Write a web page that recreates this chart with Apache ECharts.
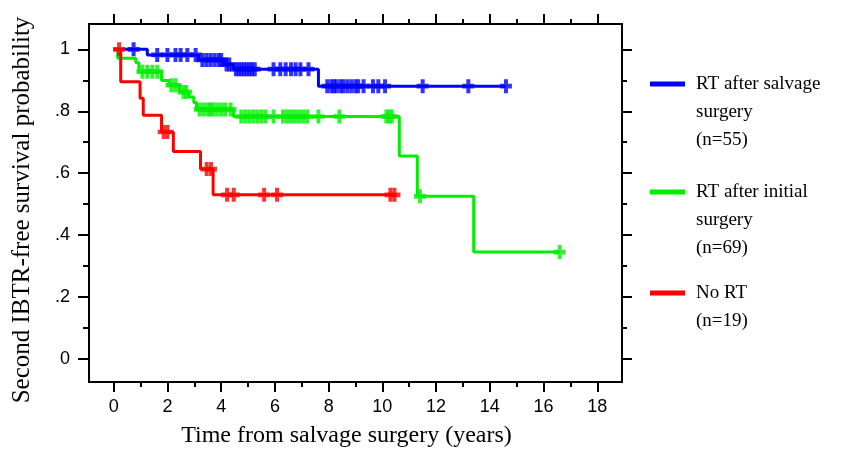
<!DOCTYPE html>
<html>
<head>
<meta charset="utf-8">
<script src="https://cdn.jsdelivr.net/npm/echarts@6/dist/echarts.min.js"></script>
<style>html,body{margin:0;padding:0;background:#fff;}#c{width:846px;height:456px;}</style>
</head>
<body>
<div id="c"></div>
<script>
// ---- Data (Kaplan-Meier step curves) ----
const blueTimes = [0, 1.25, 3.16, 4.10, 4.46, 7.62, 14.6];
const blueSurv  = [1, 0.982, 0.966, 0.951, 0.936, 0.881, 0.881];
const blueCensor = [0.74, 1.62, 2.0, 2.3, 2.49, 2.74, 3.05, 3.3, 3.45, 3.6, 3.75, 3.9, 4.0, 4.2, 4.3,
  4.55, 4.65, 4.75, 4.85, 4.95, 5.05, 5.15, 5.25, 5.95, 6.2, 6.4, 6.6, 6.77, 6.95, 7.25,
  7.95, 8.1, 8.2, 8.3, 8.45, 8.55, 8.7, 8.85, 9.0, 9.1, 9.3, 9.65, 9.85, 10.1, 11.5, 13.2, 14.6];

const greenTimes = [0, 0.15, 0.82, 0.94, 1.78, 2.05, 2.45, 2.8, 2.98, 3.08, 4.46, 10.63, 11.3, 13.4, 16.6];
const greenSurv  = [1, 0.971, 0.957, 0.928, 0.899, 0.884, 0.862, 0.846, 0.828, 0.806, 0.783, 0.655, 0.525, 0.345, 0.345];
const greenCensor = [1.07, 1.25, 1.44, 1.62, 2.15, 2.3, 2.6, 2.7, 3.2, 3.35, 3.5, 3.6, 3.7, 3.85, 4.0, 4.15, 4.35,
  4.75, 4.9, 5.05, 5.2, 5.35, 5.5, 5.65, 5.95, 6.3, 6.45, 6.6, 6.75, 6.9, 7.05, 7.2, 7.62, 8.4,
  10.15, 10.25, 10.35, 11.4, 16.6];

const redTimes = [0, 0.26, 0.98, 1.1, 1.78, 2.22, 3.23, 3.7, 10.5];
const redSurv  = [1, 0.895, 0.842, 0.787, 0.733, 0.670, 0.613, 0.530, 0.530];
const redCensor = [0.2, 1.86, 2.0, 3.46, 3.62, 4.22, 4.47, 5.6, 6.08, 10.3, 10.45];

const seriesNames = ['RT after salvage surgery (n=55)', 'RT after initial surgery (n=69)', 'No RT (n=19)'];
const legendLabels = ['RT after salvage\nsurgery\n(n=55)', 'RT after initial\nsurgery\n(n=69)', 'No RT\n(n=19)'];

const xMajorTicks = [0, 2, 4, 6, 8, 10, 12, 14, 16, 18];
const xMinorTicks = [1, 3, 5, 7, 9, 11, 13, 15, 17];
const yMajorTicks = [0, 0.2, 0.4, 0.6, 0.8, 1];
const yMinorTicks = [0.1, 0.3, 0.5, 0.7, 0.9];
const yTickLabels = ['0', '.2', '.4', '.6', '.8', '1'];

const xTitle = 'Time from salvage surgery (years)';
const yTitle = 'Second IBTR-free survival probability';

// ---- Build ----
function stepPairs(t, s) { return t.map((v, i) => [v, s[i]]); }
function survAt(t, s, x) {
  let v = s[0];
  for (let i = 0; i < t.length; i++) { if (t[i] <= x) v = s[i]; }
  return v;
}
function censorPairs(ct, t, s) { return ct.map(x => [x, survAt(t, s, x)]); }

const X_MIN = -0.92, X_MAX = 18.92, Y_MIN = -0.075, Y_MAX = 1.082;
const plusPath = 'path://M4,0 L8,0 L8,4 L12,4 L12,8 L8,8 L8,12 L4,12 L4,8 L0,8 L0,4 L4,4 Z';
const tickStyle = { color: '#000', width: 2 };
const serif = 'Liberation Serif';

function xAx(grid, pos, ticks, len, labels, extra) {
  return Object.assign({
    type: 'value', gridIndex: grid, position: pos, min: X_MIN, max: X_MAX,
    axisLine: { show: false, onZero: false },
    splitLine: { show: false },
    axisTick: { show: true, customValues: ticks, length: len, inside: false, lineStyle: tickStyle },
    axisLabel: labels ? { show: true, customValues: ticks, margin: 16, color: '#000',
      fontFamily: 'Liberation Sans', fontSize: 18 } : { show: false }
  }, extra || {});
}
function yAx(grid, pos, ticks, len, labels, extra) {
  return Object.assign({
    type: 'value', gridIndex: grid, position: pos, min: Y_MIN, max: Y_MAX,
    axisLine: { show: false, onZero: false },
    splitLine: { show: false },
    axisTick: { show: true, customValues: ticks, length: len, inside: false, lineStyle: tickStyle },
    axisLabel: labels ? { show: true, customValues: ticks, margin: 19, color: '#000',
      fontFamily: 'Liberation Sans', fontSize: 18,
      formatter: function (v) { const i = yMajorTicks.findIndex(m => Math.abs(m - v) < 1e-6); return i >= 0 ? yTickLabels[i] : ''; } }
      : { show: false }
  }, extra || {});
}

const gridRect = { left: 89, top: 24, right: 224, bottom: 74 };

const colors = ['#0000ff', '#00ee00', '#ff0000'];
const curves = [
  { t: blueTimes, s: blueSurv, c: blueCensor },
  { t: greenTimes, s: greenSurv, c: greenCensor },
  { t: redTimes, s: redSurv, c: redCensor }
];

const series = [];
curves.forEach((cv, i) => {
  series.push({
    name: seriesNames[i], type: 'line', step: 'end', xAxisIndex: 0, yAxisIndex: 0,
    data: stepPairs(cv.t, cv.s), showSymbol: false, symbol: 'none',
    lineStyle: { color: colors[i], width: 3 }, itemStyle: { color: colors[i] }, z: 2 + i
  });
  series.push({
    name: seriesNames[i], type: 'scatter', xAxisIndex: 0, yAxisIndex: 0,
    data: censorPairs(cv.c, cv.t, cv.s), symbol: plusPath, symbolSize: [12, 14],
    itemStyle: { color: colors[i] }, z: 2 + i
  });
});

const legendY = [84, 192, 293];
const graphic = [];
legendLabels.forEach((lbl, i) => {
  graphic.push({ type: 'rect', left: 650, top: legendY[i] - 2.5, shape: { width: 35, height: 5 },
    style: { fill: colors[i] }, silent: true });
  graphic.push({ type: 'text', left: 696, top: legendY[i] - 14,
    style: { text: lbl, fill: '#000', font: '19px "Liberation Serif"', lineHeight: 28 }, silent: true });
});

const option = {
  animation: false,
  backgroundColor: '#fff',
  grid: [
    Object.assign({ show: true, borderColor: '#000', borderWidth: 2, backgroundColor: 'transparent' }, gridRect),
    Object.assign({ show: false }, gridRect)
  ],
  xAxis: [
    xAx(0, 'bottom', xMajorTicks, 10, true, { name: xTitle, nameLocation: 'middle', nameGap: 42,
      nameTextStyle: { fontFamily: serif, fontSize: 24, color: '#000', padding: [0, 18, 0, 0] } }),
    xAx(0, 'top', xMajorTicks, 10, false),
    xAx(1, 'bottom', xMinorTicks, 5, false),
    xAx(1, 'top', xMinorTicks, 5, false)
  ],
  yAxis: [
    yAx(0, 'left', yMajorTicks, 11, true, { name: yTitle, nameLocation: 'middle', nameGap: 54,
      nameTextStyle: { fontFamily: serif, fontSize: 25, color: '#000', padding: [0, 14, 0, 0] } }),
    yAx(0, 'right', yMajorTicks, 10, false),
    yAx(1, 'left', yMinorTicks, 6, false),
    yAx(1, 'right', yMinorTicks, 5, false)
  ],
  series: series,
  graphic: graphic
};

const chart = echarts.init(document.getElementById('c'), null, { renderer: 'canvas' });
chart.setOption(option);
</script>
</body>
</html>
